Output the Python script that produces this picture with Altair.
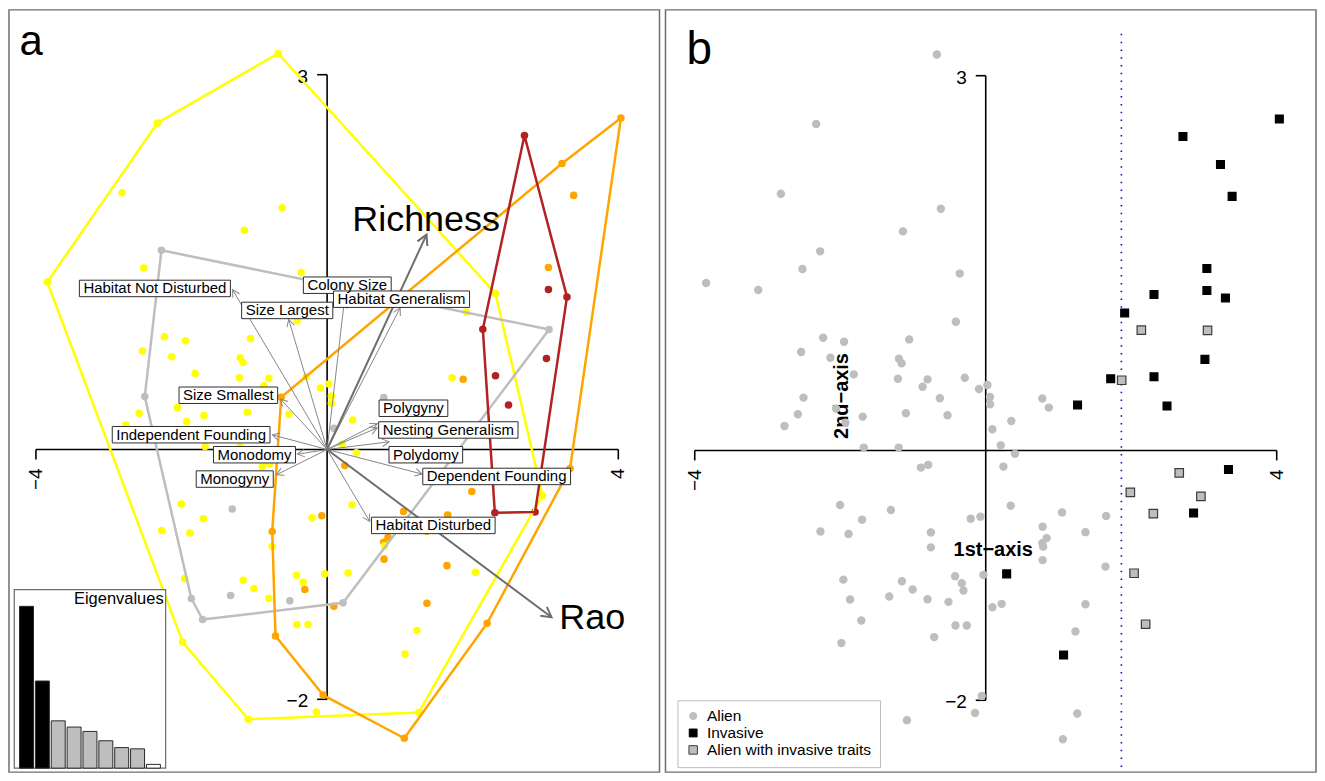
import math
import altair as alt
import pandas as pd

FONT = "Liberation Sans"

# ---------------- species scores on the first two axes ----------------
alien_x = [
    -0.672, -2.331, -2.816, -0.617, -1.138, -2.276, -2.519, -3.844, -3.127, -0.357,
    -0.411, -2.235, -1.947, -2.537, -2.135, -1.052, -1.193, -1.156, -1.814, -1.207,
    -0.800, -0.868, -0.288, -0.092, 0.023, -0.631, 0.059, 0.059, -2.057, -1.691,
    -1.097, -0.525, 0.092, 0.352, 0.778, 0.868, -1.929, -2.505, -2.582, -2.766,
    -1.677, -1.197, 0.206, 0.402, -0.891, -0.791, 0.243, -2.002, -1.700, -1.303,
    -2.272, -1.886, -0.754, -0.754, -0.206, -0.073, 0.343, 1.049, 1.655, 0.782,
    1.371, 0.837, 0.778, 0.789, 0.782, 1.646, -0.032, -1.957, -1.152, -1.005,
    -1.326, -1.865, -0.800, -0.512, -0.421, -0.329, -0.306, -1.710, -0.416, -0.261,
    -0.709, -1.984, -0.055, -0.147, -1.083, 0.092, 0.219, 1.371, 1.234, 1.258,
    1.060,
]
alien_y = [
    3.170, 2.614, 2.055, 1.935, 1.754, 1.594, 1.453, 1.341, 1.285, 1.416,
    1.030, 0.902, 0.870, 0.788, 0.742, 0.889, 0.734, 0.697, 0.609, 0.574,
    0.569, 0.510, 0.582, 0.492, 0.524, 0.418, 0.428, 0.370, 0.335, 0.271,
    0.298, 0.282, 0.170, 0.236, 0.416, 0.343, 0.223, 0.423, 0.290, 0.196,
    0.023, 0.023, 0.041, -0.027, -0.137, -0.115, -0.129, -0.437, -0.554, -0.477,
    -0.648, -0.669, -0.656, -0.776, -0.546, -0.530, -0.442, -0.496, -0.525, -0.610,
    -0.654, -0.702, -0.742, -0.770, -0.878, -0.930, -0.996, -1.034, -1.047, -1.113,
    -1.169, -1.193, -1.191, -1.212, -1.007, -1.063, -1.121, -1.361, -1.401, -1.401,
    -1.494, -1.542, -1.966, -2.101, -2.160, -1.255, -1.228, -1.231, -1.449, -2.106,
    -2.312,
]
alien_group = [
    1, 1, 1, 1, 1, 2, 1, 1, 1, 1,
    1, 1, 1, 1, 1, 1, 1, 1, 1, 1,
    1, 1, 1, 1, 1, 3, 1, 1, 1, 1,
    1, 1, 2, 1, 2, 1, 1, 2, 1, 1,
    1, 1, 1, 1, 1, 1, 3, 1, 1, 2,
    1, 1, 3, 1, 1, 3, 1, 3, 3, 3,
    3, 3, 3, 1, 3, 3, 1, 1, 1, 1,
    2, 2, 1, 2, 1, 1, 3, 2, 1, 1,
    3, 1, 3, 1, 1, 3, 2, 3, 1, 1,
    3,
]

invasive_x = [4.036, 2.711, 3.227, 3.387, 3.040, 3.040, 3.295, 2.313, 1.910,
              3.013, 2.313, 1.718, 1.262, 2.492, 3.337, 2.857, 0.288, 1.070]
invasive_y = [2.654, 2.513, 2.289, 2.034, 1.456, 1.280, 1.221, 1.248, 1.101,
              0.729, 0.590, 0.574, 0.364, 0.356, -0.153, -0.501, -0.988, -1.638]
invasive_group = [3, 4, 3, 3, 3, 4, 4, 1, 1, 4, 4, 1, 3, 4, 3, 4, 1, 1]

traits_x = [2.139, 3.049, 1.869, 2.660, 1.988, 2.958, 2.304, 2.039, 2.198]
traits_y = [0.963, 0.961, 0.562, -0.179, -0.336, -0.368, -0.506, -0.983, -1.391]
traits_group = [4, 2, 3, 3, 3, 1, 4, 1, 3]

group_names = ["1", "2", "3", "4"]
group_colors = ["#FFFF00", "#BEBEBE", "#FFA500", "#B22222"]

status_names = ["Alien", "Invasive", "Alien with invasive traits"]

# ---------------- trait vectors (panel a) ----------------
trait_names = ["Habitat Not Disturbed", "Size Largest", "Colony Size", "Habitat Generalism",
               "Size Smallest", "Independent Founding", "Monodomy", "Monogyny",
               "Polygyny", "Nesting Generalism", "Polydomy", "Dependent Founding",
               "Habitat Disturbed"]
trait_tip_x = [-1.299, -0.528, 0.236, 1.003, -0.641, -0.751, -0.408, -0.696,
               0.688, 0.688, 0.852, 1.305, 0.585]
trait_tip_y = [1.279, 1.041, 1.187, 1.133, 0.404, 0.117, -0.038, -0.203,
               0.207, 0.173, 0.061, -0.197, -0.576]
trait_label_x = [-2.366, -0.548, 0.277, 1.022, -1.357, -1.868, -0.998, -1.269,
                 1.186, 1.665, 1.356, 2.329, 1.459]
trait_label_y = [1.289, 1.113, 1.315, 1.203, 0.434, 0.118, -0.042, -0.237,
                 0.330, 0.156, -0.042, -0.216, -0.608]

diversity_names = ["Richness", "Rao"]
diversity_tip_x = [1.366, 3.083]
diversity_tip_y = [1.720, -1.343]
diversity_label_x = [1.360, 3.642]
diversity_label_y = [1.746, -1.435]

eigenvalues = [2.60, 1.40, 0.76, 0.66, 0.59, 0.44, 0.33, 0.31, 0.06]
axes_shown = [1, 2]
axes_kept = 8

axis_x_ends = [-4, 4]
axis_y_ends = [-2, 3]
invasive_threshold = 1.865
threshold_y_range = [-2.533, 3.365]

# ---------------- layout ----------------
W, H = 652, 764
SPACING = 4
A_XDOM = [-4.370, 4.566]
A_YDOM = [-2.583, 3.519]
B_XDOM = [-4.402, 4.540]
B_YDOM = [-2.575, 3.527]
PXA_X = W / (A_XDOM[1] - A_XDOM[0])
PXA_Y = H / (A_YDOM[1] - A_YDOM[0])

EIG_XDOM = [0.23, 9.77]
EIG_YDOM = [0.0, 2.87]
EIG_XRANGE = [5.3, 157]
EIG_YRANGE = [760, 581]

AX = alt.Scale(domain=A_XDOM, nice=False, zero=False)
AY = alt.Scale(domain=A_YDOM, nice=False, zero=False)
BX = alt.Scale(domain=B_XDOM, nice=False, zero=False)
BY = alt.Scale(domain=B_YDOM, nice=False, zero=False)

HEAD = "M -1 -0.55 L 0 0 L -1 0.55"

ARIAL = dict(zip(" abcdefghijklmnopqrstuvwxyz",
                 [278, 556, 556, 500, 556, 556, 278, 556, 556, 222, 222, 500, 222, 833,
                  556, 556, 556, 556, 333, 500, 278, 556, 500, 722, 500, 500, 500]))
ARIAL.update(zip("ABCDEFGHIJKLMNOPQRSTUVWXYZ",
                 [667, 667, 722, 722, 667, 611, 778, 722, 278, 500, 667, 556, 833,
                  722, 778, 667, 778, 722, 667, 611, 722, 667, 944, 667, 667, 611]))


def text_width(s, size):
    return sum(ARIAL.get(c, 556) for c in s) * size / 1000.0


def minus(v):
    return str(v).replace("-", "\u2212")


def convex_hull(points):
    pts = sorted(set(points))
    if len(pts) < 3:
        return pts

    def cross(o, a, b):
        return (a[0] - o[0]) * (b[1] - o[1]) - (a[1] - o[1]) * (b[0] - o[0])

    lower, upper = [], []
    for p in pts:
        while len(lower) >= 2 and cross(lower[-2], lower[-1], p) <= 0:
            lower.pop()
        lower.append(p)
    for p in reversed(pts):
        while len(upper) >= 2 and cross(upper[-2], upper[-1], p) <= 0:
            upper.pop()
        upper.append(p)
    return lower[:-1] + upper[:-1]


# ---------------- data frames ----------------
GROUP_COLOR = dict(zip(group_names, group_colors))
pts = pd.DataFrame({
    "x": alien_x + invasive_x + traits_x,
    "y": alien_y + invasive_y + traits_y,
    "group": [str(g) for g in alien_group + invasive_group + traits_group],
    "status": [status_names[0]] * len(alien_x) + [status_names[1]] * len(invasive_x)
    + [status_names[2]] * len(traits_x),
})
pts["gcol"] = pts["group"].map(GROUP_COLOR)

hull_rows = []
for g in group_names:
    sub = pts[pts.group == g]
    hull = convex_hull(list(zip(sub.x, sub.y)))
    hull = hull + hull[:1]
    for k, (hx, hy) in enumerate(hull):
        hull_rows.append({"group": g, "k": k, "x": hx, "y": hy})
hull_df = pd.DataFrame(hull_rows)
hull_df["gcol"] = hull_df["group"].map(GROUP_COLOR)


def screen_angle(x, y):
    return math.degrees(math.atan2(-y * PXA_Y, x * PXA_X)) % 360


LAB_SIZE = 15
arrow_df = pd.DataFrame({
    "name": trait_names, "tx": trait_tip_x, "ty": trait_tip_y,
    "lx": trait_label_x, "ly": trait_label_y,
})
arrow_df["ox"] = 0.0
arrow_df["oy"] = 0.0
arrow_df["ang"] = [screen_angle(x, y) for x, y in zip(trait_tip_x, trait_tip_y)]
half_w = [(text_width(n, LAB_SIZE) + 8) / 2 / PXA_X for n in trait_names]
half_h = 8.25 / PXA_Y
arrow_df["bx0"] = [lx - hw for lx, hw in zip(trait_label_x, half_w)]
arrow_df["bx1"] = [lx + hw for lx, hw in zip(trait_label_x, half_w)]
arrow_df["by0"] = [ly - half_h for ly in trait_label_y]
arrow_df["by1"] = [ly + half_h for ly in trait_label_y]

div_df = pd.DataFrame({
    "name": diversity_names, "tx": diversity_tip_x, "ty": diversity_tip_y,
    "lx": diversity_label_x, "ly": diversity_label_y,
})
div_df["ox"] = 0.0
div_df["oy"] = 0.0
div_df["ang"] = [screen_angle(x, y) for x, y in zip(diversity_tip_x, diversity_tip_y)]


def axes_layers(XS, YS):
    hdf = pd.DataFrame({"x0": [axis_x_ends[0]], "x1": [axis_x_ends[1]], "y0": [0]})
    vdf = pd.DataFrame({"x0": [0], "y0": [axis_y_ends[0]], "y1": [axis_y_ends[1]]})
    xt = pd.DataFrame({"x": axis_x_ends, "y": [0, 0], "lab": [minus(v) for v in axis_x_ends]})
    yt = pd.DataFrame({"x": [0, 0], "y": axis_y_ends, "lab": [minus(v) for v in axis_y_ends]})
    hline = alt.Chart(hdf).mark_rule(color="black", strokeWidth=1.6).encode(
        x=alt.X("x0:Q", scale=XS, axis=None), x2="x1:Q",
        y=alt.Y("y0:Q", scale=YS, axis=None))
    vline = alt.Chart(vdf).mark_rule(color="black", strokeWidth=1.6).encode(
        x=alt.X("x0:Q", scale=XS, axis=None),
        y=alt.Y("y0:Q", scale=YS, axis=None), y2="y1:Q")
    xticks = alt.Chart(xt).mark_tick(orient="vertical", size=10, thickness=1.6,
                                     yOffset=5, color="black", opacity=1).encode(
        x=alt.X("x:Q", scale=XS, axis=None), y=alt.Y("y:Q", scale=YS, axis=None))
    xlabs = alt.Chart(xt).mark_text(angle=270, align="right", baseline="middle", dx=-19,
                                    font=FONT, fontSize=19, color="black").encode(
        x=alt.X("x:Q", scale=XS, axis=None), y=alt.Y("y:Q", scale=YS, axis=None),
        text="lab:N")
    yticks = alt.Chart(yt).mark_tick(orient="horizontal", size=10, thickness=1.6,
                                     xOffset=-5, color="black", opacity=1).encode(
        x=alt.X("x:Q", scale=XS, axis=None), y=alt.Y("y:Q", scale=YS, axis=None))
    ylabs = alt.Chart(yt).mark_text(align="right", baseline="middle", dx=-19, dy=2,
                                    font=FONT, fontSize=19, color="black").encode(
        x=alt.X("x:Q", scale=XS, axis=None), y=alt.Y("y:Q", scale=YS, axis=None),
        text="lab:N")
    return [hline, vline, xticks, xlabs, yticks, ylabs]


# ---------------- panel a ----------------
gcolor = alt.Color("gcol:N", scale=None)

pts_a = alt.Chart(pts).mark_circle(size=57, opacity=1).encode(
    x=alt.X("x:Q", scale=AX, axis=None), y=alt.Y("y:Q", scale=AY, axis=None), color=gcolor)

hulls = alt.Chart(hull_df).mark_line(strokeWidth=2.5, strokeJoin="round").encode(
    x=alt.X("x:Q", scale=AX, axis=None), y=alt.Y("y:Q", scale=AY, axis=None),
    color=gcolor, detail="group:N", order=alt.Order("k:Q"))

ARROW_GREY = "#868686"
arrows = alt.Chart(arrow_df).mark_rule(color=ARROW_GREY, strokeWidth=1).encode(
    x=alt.X("ox:Q", scale=AX, axis=None), y=alt.Y("oy:Q", scale=AY, axis=None),
    x2="tx:Q", y2="ty:Q")
heads = alt.Chart(arrow_df).mark_point(shape=HEAD, filled=False, size=196, strokeWidth=1,
                                       color=ARROW_GREY, opacity=1).encode(
    x=alt.X("tx:Q", scale=AX, axis=None), y=alt.Y("ty:Q", scale=AY, axis=None),
    angle=alt.Angle("ang:Q", scale=None))

DIV_GREY = "#6E6E6E"
div_arrows = alt.Chart(div_df).mark_rule(color=DIV_GREY, strokeWidth=2).encode(
    x=alt.X("ox:Q", scale=AX, axis=None), y=alt.Y("oy:Q", scale=AY, axis=None),
    x2="tx:Q", y2="ty:Q")
div_heads = alt.Chart(div_df).mark_point(shape=HEAD, filled=False, size=400, strokeWidth=2,
                                         color=DIV_GREY, opacity=1).encode(
    x=alt.X("tx:Q", scale=AX, axis=None), y=alt.Y("ty:Q", scale=AY, axis=None),
    angle=alt.Angle("ang:Q", scale=None))

boxes = alt.Chart(arrow_df).mark_rect(fill="white", stroke="#2E2E2E", strokeWidth=1).encode(
    x=alt.X("bx0:Q", scale=AX, axis=None), x2="bx1:Q",
    y=alt.Y("by0:Q", scale=AY, axis=None), y2="by1:Q")
labels = alt.Chart(arrow_df).mark_text(font=FONT, fontSize=LAB_SIZE, align="center",
                                       baseline="middle", color="black").encode(
    x=alt.X("lx:Q", scale=AX, axis=None), y=alt.Y("ly:Q", scale=AY, axis=None),
    text="name:N")
div_labels = alt.Chart(div_df).mark_text(font=FONT, fontSize=36, align="center",
                                         baseline="alphabetic", color="black").encode(
    x=alt.X("lx:Q", scale=AX, axis=None), y=alt.Y("ly:Q", scale=AY, axis=None),
    text="name:N")

tag_a = alt.Chart(pd.DataFrame({"tag": ["a"]})).mark_text(
    font=FONT, fontSize=42, align="left", baseline="alphabetic", color="black").encode(
    x=alt.value(10.5), y=alt.value(45), text="tag:N")

main_a = alt.layer(*axes_layers(AX, AY), pts_a, hulls, arrows, heads, div_arrows, div_heads,
                   boxes, labels, div_labels, tag_a)

# eigenvalue inset
ROLE_COLOR = {"shown": "#000000", "kept": "#BEBEBE", "other": "#FFFFFF"}
eig_df = pd.DataFrame({"axis": list(range(1, len(eigenvalues) + 1)), "eig": eigenvalues})
eig_df["x0"] = eig_df["axis"] - 0.44
eig_df["x1"] = eig_df["axis"] + 0.44
eig_df["zero"] = 0.0
eig_df["role"] = ["shown" if a in axes_shown else ("kept" if a <= axes_kept else "other")
                  for a in eig_df["axis"]]
eig_df["rcol"] = eig_df["role"].map(ROLE_COLOR)
EX = alt.Scale(domain=EIG_XDOM, range=EIG_XRANGE, nice=False, zero=False)
EY = alt.Scale(domain=EIG_YDOM, range=EIG_YRANGE, nice=False, zero=False)
frame_df = pd.DataFrame({"x0": [EIG_XDOM[0]], "x1": [EIG_XDOM[1]],
                         "y0": [EIG_YDOM[0]], "y1": [EIG_YDOM[1]], "title": ["Eigenvalues"]})
eig_frame = alt.Chart(frame_df).mark_rect(fill="white", stroke="#6A6A6A", strokeWidth=1.2).encode(
    x=alt.X("x0:Q", scale=EX, axis=None), x2="x1:Q",
    y=alt.Y("y0:Q", scale=EY, axis=None), y2="y1:Q")
eig_bars = alt.Chart(eig_df).mark_rect(stroke="#2A2A2A", strokeWidth=1).encode(
    x=alt.X("x0:Q", scale=EX, axis=None), x2="x1:Q",
    y=alt.Y("zero:Q", scale=EY, axis=None), y2="eig:Q",
    fill=alt.Fill("rcol:N", scale=None))
eig_title = alt.Chart(frame_df).mark_text(font=FONT, fontSize=16.5, align="right",
                                          baseline="alphabetic", dx=-2, dy=14,
                                          color="black").encode(
    x=alt.X("x1:Q", scale=EX, axis=None), y=alt.Y("y1:Q", scale=EY, axis=None),
    text="title:N")
inset = alt.layer(eig_frame, eig_bars, eig_title)

panel_a = alt.layer(main_a, inset).resolve_scale(
    x="independent", y="independent"
).properties(width=W, height=H)

# ---------------- panel b ----------------
titles_df = pd.DataFrame({"txt": ["2nd\u2212axis", "1st\u2212axis"],
                          "x": [-1.975, 0.103], "y": [0.436, -0.794], "ang": [270, 0]})
axis_titles = alt.Chart(titles_df).mark_text(font=FONT, fontSize=20, fontWeight="bold",
                                             align="center", baseline="middle",
                                             color="black").encode(
    x=alt.X("x:Q", scale=BX, axis=None), y=alt.Y("y:Q", scale=BY, axis=None),
    text="txt:N", angle=alt.Angle("ang:Q", scale=None))

thr_df = pd.DataFrame({"x": [invasive_threshold], "y0": [threshold_y_range[0]],
                       "y1": [threshold_y_range[1]]})
threshold = alt.Chart(thr_df).mark_rule(color="#0000FF", strokeWidth=1.6,
                                        strokeDash=[1.5, 6.3]).encode(
    x=alt.X("x:Q", scale=BX, axis=None), y=alt.Y("y0:Q", scale=BY, axis=None), y2="y1:Q")

# legend lives at the top level: offsets from the chart origin (panel b starts at W + SPACING)
LEG = alt.Legend(title=None, orient="none", legendX=W + SPACING + 14, legendY=692, padding=8,
                 strokeColor="#BDBDBD", fillColor="#FFFFFF", cornerRadius=0,
                 labelFont=FONT, labelFontSize=15.5, labelColor="black", labelLimit=400,
                 labelOffset=6, symbolSize=25, symbolStrokeWidth=1, rowPadding=0)

pts_b = alt.Chart(pts).mark_point(filled=True, opacity=1, strokeWidth=1.2).encode(
    x=alt.X("x:Q", scale=BX, axis=None), y=alt.Y("y:Q", scale=BY, axis=None),
    shape=alt.Shape("status:N", scale=alt.Scale(domain=status_names,
                                                range=["circle", "square", "square"]),
                    legend=LEG),
    fill=alt.Fill("status:N", scale=alt.Scale(domain=status_names,
                                              range=["#BEBEBE", "#000000", "#BEBEBE"]),
                  legend=LEG),
    stroke=alt.Stroke("status:N", scale=alt.Scale(domain=status_names,
                                                  range=["#BEBEBE", "#000000", "#3C3C3C"]),
                      legend=LEG),
    size=alt.Size("status:N", scale=alt.Scale(domain=status_names, range=[52, 72, 72]),
                  legend=None),
)

tag_b = alt.Chart(pd.DataFrame({"tag": ["b"]})).mark_text(
    font=FONT, fontSize=46, align="left", baseline="alphabetic", color="black").encode(
    x=alt.value(21), y=alt.value(54), text="tag:N")

panel_b = alt.layer(axis_titles, *axes_layers(BX, BY), threshold, pts_b, tag_b).properties(
    width=W, height=H)

chart = alt.hconcat(panel_a, panel_b, spacing=SPACING).configure_view(
    stroke="#6E6E6E", strokeWidth=1.5
).properties(padding=0, background="white")

chart.save("out.html", embed_options={"renderer": "svg", "actions": False})
